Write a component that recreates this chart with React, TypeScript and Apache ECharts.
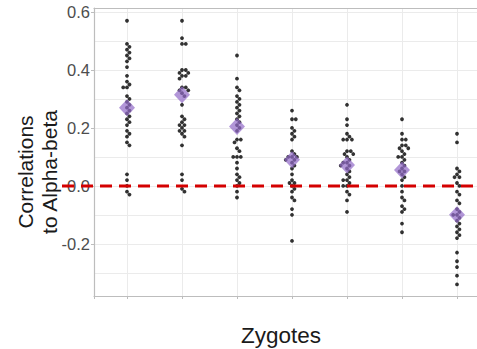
import React, { useEffect, useRef } from "react";
import * as echarts from "echarts";

// ---- data ----
const categories = ["1", "2", "3", "4", "5", "6", "7"];
const group1 = [0.57, 0.49, 0.48, 0.47, 0.46, 0.45, 0.44, 0.43, 0.41, 0.38, 0.36, 0.35, 0.34, 0.34, 0.31, 0.30, 0.29, 0.28, 0.27, 0.26, 0.25, 0.24, 0.23, 0.22, 0.21, 0.19, 0.18, 0.17, 0.15, 0.14, 0.04, 0.02, 0.0, -0.02, -0.03];
const group2 = [0.57, 0.51, 0.49, 0.49, 0.40, 0.40, 0.39, 0.39, 0.38, 0.38, 0.37, 0.34, 0.34, 0.33, 0.33, 0.32, 0.31, 0.28, 0.24, 0.23, 0.22, 0.21, 0.21, 0.20, 0.19, 0.19, 0.18, 0.17, 0.14, 0.04, 0.02, -0.01, -0.02];
const group3 = [0.45, 0.37, 0.34, 0.33, 0.31, 0.30, 0.29, 0.28, 0.27, 0.26, 0.25, 0.24, 0.23, 0.22, 0.21, 0.20, 0.19, 0.16, 0.16, 0.15, 0.13, 0.12, 0.10, 0.10, 0.10, 0.08, 0.06, 0.04, 0.03, 0.02, 0.01, 0.0, -0.02, -0.04];
const group4 = [0.26, 0.23, 0.23, 0.20, 0.19, 0.18, 0.17, 0.16, 0.12, 0.11, 0.10, 0.10, 0.10, 0.09, 0.09, 0.08, 0.07, 0.06, 0.04, 0.02, 0.01, 0.01, 0.0, -0.01, -0.02, -0.04, -0.05, -0.08, -0.10, -0.19];
const group5 = [0.28, 0.23, 0.21, 0.18, 0.17, 0.16, 0.16, 0.16, 0.12, 0.12, 0.11, 0.11, 0.10, 0.09, 0.08, 0.08, 0.07, 0.07, 0.06, 0.05, 0.04, 0.03, 0.02, 0.02, 0.01, 0.0, 0.0, -0.02, -0.03, -0.05, -0.09];
const group6 = [0.23, 0.18, 0.16, 0.16, 0.14, 0.14, 0.13, 0.13, 0.12, 0.11, 0.10, 0.10, 0.09, 0.08, 0.07, 0.06, 0.05, 0.05, 0.04, 0.03, 0.02, 0.0, -0.02, -0.04, -0.05, -0.07, -0.08, -0.09, -0.13, -0.16];
const group7 = [0.18, 0.15, 0.06, 0.05, 0.04, 0.03, 0.03, 0.01, 0.0, -0.02, -0.03, -0.05, -0.06, -0.08, -0.09, -0.10, -0.10, -0.11, -0.12, -0.13, -0.14, -0.15, -0.16, -0.17, -0.18, -0.23, -0.26, -0.28, -0.31, -0.34];
const groups = [group1, group2, group3, group4, group5, group6, group7];
const groupCentres = [0.27, 0.315, 0.205, 0.09, 0.072, 0.055, -0.1];
const referenceLine = 0;
const yMin = -0.38;
const yMax = 0.614;
const xMin = 0.4;
const xMax = 7.6;
const xTitle = "Zygotes";
const yTitle = "Correlations\nto Alpha-beta";

// layout
const GRID_LEFT = 94;
const GRID_TOP = 8;
const GRID_W = 396;
const GRID_H = 288;
const DOT = 3.8;

// simple beeswarm: horizontal offsets so dots do not overlap
function swarmOffsets(values: number[], pxY: number, pxX: number, d: number): number[] {
  const order = values.map((_, i) => i).sort((a, b) => values[b] - values[a]);
  const placed: { x: number; y: number }[] = [];
  const out = new Array(values.length).fill(0);
  for (const idx of order) {
    const y = values[idx] * pxY;
    const near = placed.filter((p) => Math.abs(p.y - y) < d);
    const cands = [0];
    for (const p of near) {
      const dx = Math.sqrt(Math.max(0, d * d - (p.y - y) * (p.y - y)));
      cands.push(p.x + dx, p.x - dx);
    }
    cands.sort((a, b) => Math.abs(a) - Math.abs(b));
    let chosen = 0;
    for (const c of cands) {
      if (near.every((p) => (p.x - c) ** 2 + (p.y - y) ** 2 >= d * d - 1e-6)) {
        chosen = c;
        break;
      }
    }
    placed.push({ x: chosen, y });
    out[idx] = chosen / pxX;
  }
  return out;
}

export default function App() {
  const ref = useRef<HTMLDivElement>(null);
  useEffect(() => {
    if (!ref.current) return;
    const chart = echarts.init(ref.current, null, { renderer: "svg" });
    const pxY = GRID_H / (yMax - yMin);
    const pxX = GRID_W / (xMax - xMin);
    const dots: number[][] = [];
    groups.forEach((vals, gi) => {
      const offs = swarmOffsets(vals, pxY, pxX, DOT);
      vals.forEach((v, i) => dots.push([gi + 1 + offs[i], v]));
    });
    const centres = groupCentres.map((v, i) => [i + 1, v]);
    const border = "#bdbdbd";
    const gridLine = "#ebebeb";
    const font = "'Liberation Sans', Arial, sans-serif";
    chart.setOption({
      animation: false,
      textStyle: { fontFamily: font },
      grid: [
        { left: GRID_LEFT, top: GRID_TOP, width: GRID_W, height: GRID_H, outerBoundsMode: "none", containLabel: false },
        { left: 62, top: GRID_TOP, right: 0, height: GRID_H, outerBoundsMode: "none", containLabel: false },
      ],
      xAxis: [
        {
          gridIndex: 0,
          type: "value",
          min: xMin,
          max: xMax,
          splitNumber: 7,
          axisLine: { show: true, onZero: false, lineStyle: { color: border, width: 1.2 } },
          axisTick: { show: true, length: 3, lineStyle: { color: border } },
          axisLabel: { show: false },
          splitLine: { show: true, showMinLine: false, showMaxLine: false, lineStyle: { color: gridLine, width: 1 } },
        },
        {
          gridIndex: 0,
          type: "value",
          position: "top",
          min: xMin,
          max: xMax,
          axisLine: { show: true, onZero: false, lineStyle: { color: border, width: 1.2 } },
          axisTick: { show: false },
          axisLabel: { show: false },
          splitLine: { show: false },
        },
        { gridIndex: 1, type: "value", min: 0, max: 1, show: false },
      ],
      yAxis: [
        {
          gridIndex: 0,
          type: "value",
          min: yMin,
          max: yMax,
          splitNumber: 5,
          axisLine: { show: true, onZero: false, lineStyle: { color: border, width: 1.2 } },
          axisTick: { show: true, length: 3, lineStyle: { color: border } },
          axisLabel: {
            show: true,
            showMinLabel: false,
            showMaxLabel: false,
            fontSize: 16.5,
            color: "#4d4d4d",
            margin: 4,
            fontFamily: font,
            formatter: (v: number) => v.toFixed(1),
          },
          splitLine: { show: true, showMinLine: false, showMaxLine: false, lineStyle: { color: gridLine, width: 1 } },
          minorTick: { show: false, splitNumber: 2 },
          minorSplitLine: { show: true, lineStyle: { color: gridLine, width: 1 } },
        },
        { gridIndex: 1, type: "value", min: yMin, max: yMax, show: false },
      ],
      series: [
        {
          type: "scatter",
          xAxisIndex: 0,
          yAxisIndex: 0,
          data: dots,
          symbol: "circle",
          symbolSize: DOT,
          itemStyle: { color: "#000000" },
          silent: true,
          z: 2,
        },
        {
          type: "line",
          xAxisIndex: 2,
          yAxisIndex: 1,
          data: [
            [0, referenceLine],
            [1, referenceLine],
          ],
          symbol: "none",
          lineStyle: { color: "#d40000", width: 3, type: [12, 7] },
          silent: true,
          z: 3,
        },
        {
          type: "scatter",
          xAxisIndex: 0,
          yAxisIndex: 0,
          data: centres,
          symbol: "diamond",
          symbolSize: [16, 17],
          itemStyle: { color: "rgb(145,105,200)", opacity: 0.7 },
          silent: true,
          z: 4,
        },
      ],
      graphic: [
        {
          type: "text",
          x: 37,
          y: 172,
          rotation: Math.PI / 2,
          style: {
            text: yTitle,
            fontSize: 21,
            fontFamily: font,
            fill: "#1a1a1a",
            align: "center",
            verticalAlign: "middle",
            lineHeight: 24,
          },
        },
        {
          type: "text",
          x: 281,
          y: 335,
          style: {
            text: xTitle,
            fontSize: 22.5,
            fontFamily: font,
            fill: "#1a1a1a",
            align: "center",
            verticalAlign: "middle",
          },
        },
      ],
    });
    return () => chart.dispose();
  }, []);
  return (
    <div
      ref={ref}
      style={{ position: "fixed", left: 0, top: 0, width: 477, height: 349, background: "#ffffff" }}
    />
  );
}
